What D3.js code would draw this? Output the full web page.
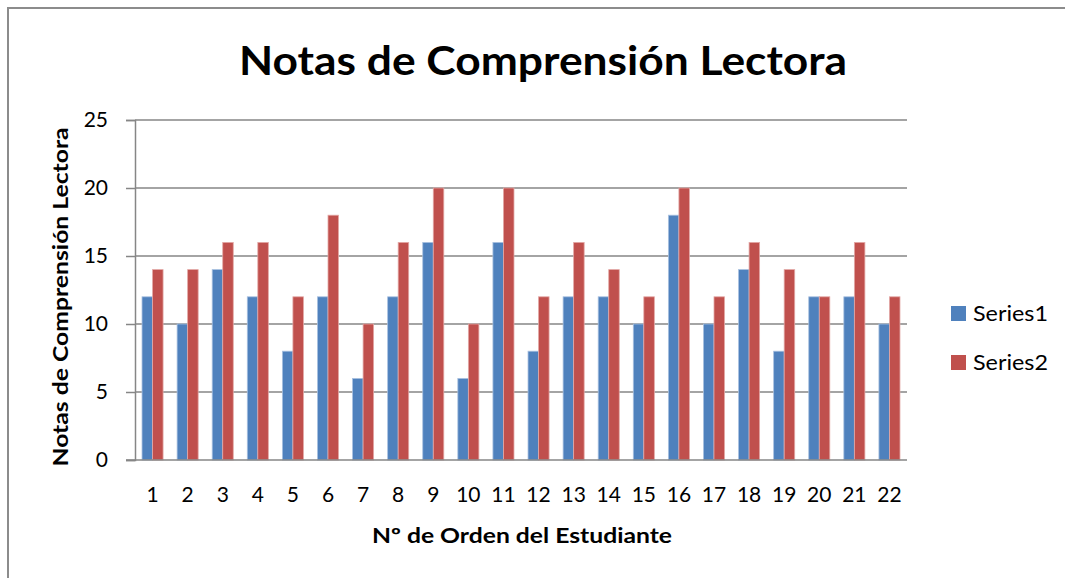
<!DOCTYPE html>
<html>
<head>
<meta charset="utf-8">
<script src="https://cdn.jsdelivr.net/npm/d3@7"></script>
<style>
  html, body { margin: 0; padding: 0; background: #fff; }
  svg { display: block; }
  text { font-family: Lato, "Open Sans", sans-serif; fill: #000; }
</style>
</head>
<body>
<script>
const categories = ["1","2","3","4","5","6","7","8","9","10","11","12","13","14","15","16","17","18","19","20","21","22"];
const series1 = [12,10,14,12,8,12,6,12,16,6,16,8,12,12,10,18,10,14,8,12,12,10];
const series2 = [14,14,16,16,12,18,10,16,20,10,20,12,16,14,12,20,12,16,14,12,16,12];
const seriesNames = ["Series1", "Series2"];
const yTicks = [0, 5, 10, 15, 20, 25];
const colors = ["#4F81BD", "#C0504D"];
const strokeColors = ["#a9c1e0", "#e3a8a6"];

const W = 1065, H = 578;
const svg = d3.select("body").append("svg").attr("width", W).attr("height", H);

// frame
svg.append("path")
  .attr("d", `M8,${H} L8,8 L${W},8`)
  .attr("fill", "none").attr("stroke", "#8c8c8c").attr("stroke-width", 2);

const plot = { left: 135, right: 907, top: 120, bottom: 460 };

const x = d3.scaleBand().domain(categories).range([plot.left, plot.right])
  .paddingInner(0.4).paddingOuter(0.2);
const xs = d3.scaleBand().domain(seriesNames).range([0, x.bandwidth()]);
const y = d3.scaleLinear().domain([0, 25]).range([plot.bottom, plot.top]);

// gridlines
svg.append("g").selectAll("line").data(yTicks.filter(d => d > 0)).join("line")
  .attr("x1", plot.left).attr("x2", plot.right)
  .attr("y1", d => y(d)).attr("y2", d => y(d))
  .attr("stroke", "#868686").attr("stroke-width", 1.5);

// bars
const data = categories.map((c, i) => ({ c, vals: [series1[i], series2[i]] }));
const groups = svg.append("g").selectAll("g").data(data).join("g")
  .attr("transform", d => `translate(${x(d.c)},0)`);
groups.selectAll("rect").data(d => d.vals.map((v, k) => ({ v, k }))).join("rect")
  .attr("x", d => xs(seriesNames[d.k]))
  .attr("y", d => y(d.v))
  .attr("width", xs.bandwidth())
  .attr("height", d => y(0) - y(d.v))
  .attr("fill", d => colors[d.k])
  .attr("stroke", d => strokeColors[d.k])
  .attr("stroke-width", 0.8);

// y axis
const yAxis = svg.append("g").attr("transform", `translate(${plot.left},0)`)
  .call(d3.axisLeft(y).tickValues(yTicks).tickSize(9).tickPadding(18));
yAxis.select(".domain").attr("stroke", "#868686").attr("stroke-width", 1.5);
yAxis.selectAll(".tick line").attr("stroke", "#868686").attr("stroke-width", 1.5);
yAxis.selectAll(".tick text").style("font-size", "21px").style("font-family", "Lato, sans-serif").attr("fill", "#000");

// x axis
const xAxis = svg.append("g").attr("transform", `translate(0,${plot.bottom})`)
  .call(d3.axisBottom(x).tickSize(0).tickPadding(27));
xAxis.select(".domain").attr("stroke", "#868686").attr("stroke-width", 1.5)
  .attr("d", `M${plot.left - 9},0H${plot.right}`);
xAxis.selectAll(".tick text").style("font-size", "21px").style("font-family", "Lato, sans-serif").attr("fill", "#000");

// title
svg.append("text")
  .attr("x", 543).attr("y", 75).attr("text-anchor", "middle")
  .style("font-size", "41px").style("font-weight", "bold")
  .attr("textLength", 608).attr("lengthAdjust", "spacingAndGlyphs")
  .text("Notas de Comprensión Lectora");

// x title
svg.append("text")
  .attr("x", 522).attr("y", 543).attr("text-anchor", "middle")
  .style("font-size", "21px").style("font-weight", "bold")
  .attr("textLength", 300).attr("lengthAdjust", "spacingAndGlyphs")
  .text("Nº de Orden del Estudiante");

// y title
svg.append("text")
  .attr("transform", "translate(68,297) rotate(-90)")
  .attr("text-anchor", "middle")
  .style("font-size", "21px").style("font-weight", "bold")
  .attr("textLength", 339).attr("lengthAdjust", "spacingAndGlyphs")
  .text("Notas de Comprensión Lectora");

// legend
const legend = svg.append("g").selectAll("g").data(seriesNames).join("g")
  .attr("transform", (d, i) => `translate(951,${306 + i * 49})`);
legend.append("rect").attr("width", 15).attr("height", 15)
  .attr("fill", (d, i) => colors[i]);
legend.append("text").attr("x", 22).attr("y", 15)
  .style("font-size", "22px")
  .attr("textLength", 75).attr("lengthAdjust", "spacingAndGlyphs")
  .text(d => d);
</script>
</body>
</html>
